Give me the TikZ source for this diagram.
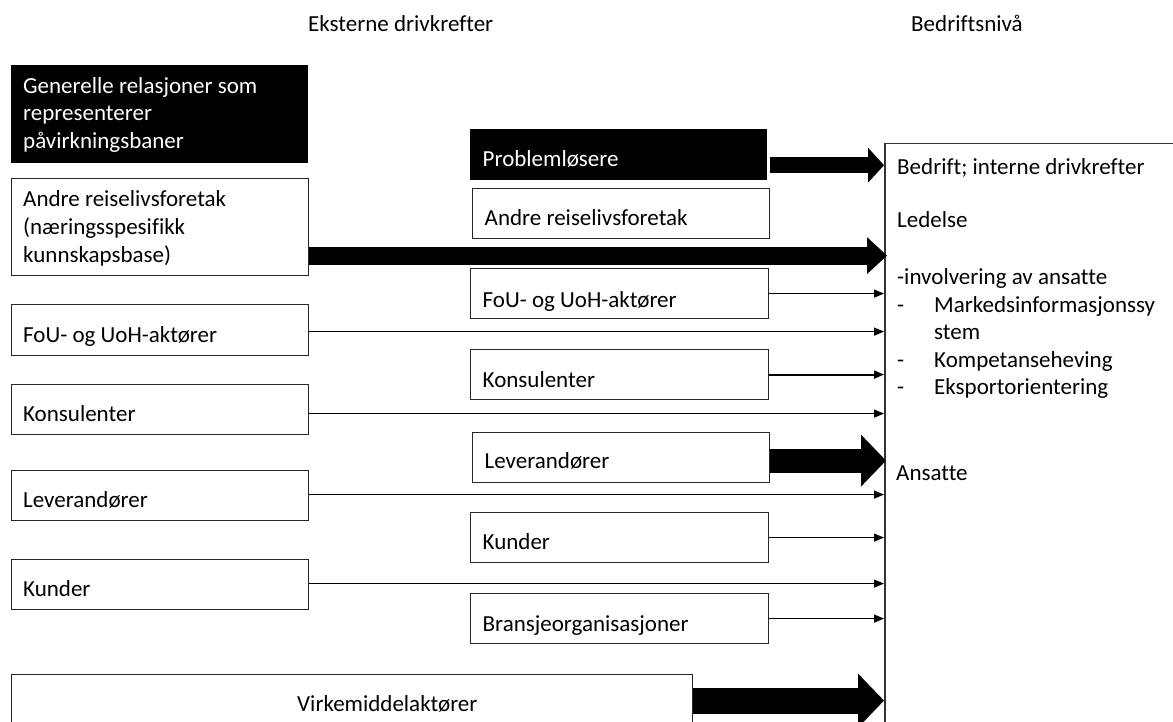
\documentclass[tikz,border=0pt]{standalone}
\usepackage{fontspec}
\setmainfont{Carlito}[Ligatures=NoCommon]
\usetikzlibrary{arrows.meta,calc}
\begin{document}
\begin{tikzpicture}[x=1pt,y=-1pt,
  box/.style={draw=black!85, line width=1.2pt, fill=white, inner sep=0pt, anchor=north west},
  blk/.style={fill=black, draw=black, inner sep=0pt, anchor=north west},
  lbl/.style={anchor=south west, inner sep=0pt, text depth=0pt, align=left, font=\fontsize{23}{27.5}\selectfont},
  arr/.style={line width=1.3pt, -{Triangle[length=10pt,width=8pt]}},
  fat/.style args={#1/#2/#3}{line width=#1, -{Triangle[length=#2,width=#3,line width=0pt]}},
]
\useasboundingbox (0,0) rectangle (1173,722);
\clip (0,0) rectangle (1173,722);
\fill[white] (0,0) rectangle (1173,722);

% headers
\node[lbl] (h1) at (308,32) {Eksterne drivkrefter};
\node[lbl] (h2) at (911,32) {Bedriftsnivå};

% right box
\node[box, draw=black!80, line width=1.5pt, minimum width=300pt, minimum height=620pt] (bed) at (884,143) {};

% left column
\node[blk, minimum width=296pt, minimum height=97pt] (Lhead) at (11,65) {};
\node[box, minimum width=297pt, minimum height=97pt] (Landre) at (11,178) {};
\node[box, minimum width=297pt, minimum height=51pt] (Lfou) at (11,304) {};
\node[box, minimum width=297pt, minimum height=50pt] (Lkons) at (11,384) {};
\node[box, minimum width=297pt, minimum height=50pt] (Llev) at (11,470) {};
\node[box, minimum width=297pt, minimum height=50pt] (Lkun) at (11,559) {};
\node[box, minimum width=681pt, minimum height=80pt] (Lvirk) at (11,674) {};

% middle column
\node[blk, minimum width=296pt, minimum height=50pt] (Mpro) at (470,129) {};
\node[box, minimum width=297pt, minimum height=50pt] (Mandre) at (472,188) {};
\node[box, minimum width=298pt, minimum height=50pt] (Mfou) at (470,268) {};
\node[box, minimum width=298pt, minimum height=50pt] (Mkons) at (470,349) {};
\node[box, minimum width=297pt, minimum height=50pt] (Mlev) at (472,432) {};
\node[box, minimum width=298pt, minimum height=50pt] (Mkun) at (470,512) {};
\node[box, minimum width=298pt, minimum height=50pt] (Mbra) at (470,593) {};

% labels
\node[lbl, text=white] (tLhead) at ([shift={(12pt,14pt)}]Lhead.south west) {Generelle relasjoner som\\representerer\\påvirkningsbaner};
\node[lbl] (tLandre) at ([shift={(12pt,14pt)}]Landre.south west) {Andre reiselivsforetak\\(næringsspesifikk\\kunnskapsbase)};
\node[lbl] (tLfou) at ([shift={(12pt,13.5pt)}]Lfou.south west) {FoU- og UoH-aktører};
\node[lbl] (tLkons) at ([shift={(12pt,13.5pt)}]Lkons.south west) {Konsulenter};
\node[lbl] (tLlev) at ([shift={(12pt,13.5pt)}]Llev.south west) {Leverandører};
\node[lbl] (tLkun) at ([shift={(12pt,13.5pt)}]Lkun.south west) {Kunder};
\node[lbl] (tLvirk) at ([shift={(286pt,-38pt)}]Lvirk.north west) {Virkemiddelaktører};

\node[lbl, text=white] (tMpro) at ([shift={(12.5pt,12.5pt)}]Mpro.south west) {Problemløsere};
\node[lbl] (tMandre) at ([shift={(12.5pt,13pt)}]Mandre.south west) {Andre reiselivsforetak};
\node[lbl] (tMfou) at ([shift={(12.5pt,12pt)}]Mfou.south west) {FoU- og UoH-aktører};
\node[lbl] (tMkons) at ([shift={(12.5pt,12.5pt)}]Mkons.south west) {Konsulenter};
\node[lbl] (tMlev) at ([shift={(12.5pt,14.5pt)}]Mlev.south west) {Leverandører};
\node[lbl] (tMkun) at ([shift={(12.5pt,14pt)}]Mkun.south west) {Kunder};
\node[lbl] (tMbra) at ([shift={(12.5pt,13pt)}]Mbra.south west) {Bransjeorganisasjoner};

% right box texts
\node[lbl] (tbed) at ([shift={(13pt,-32pt)}]bed.north west) {Bedrift; interne drivkrefter};
\node[lbl] (tled) at ([shift={(13pt,-85pt)}]bed.north west) {Ledelse};
\node[lbl] (tlist) at ([shift={(13pt,-252pt)}]bed.north west) {-involvering av ansatte\\
\makebox[37pt][l]{-}Markedsinformasjonssy\\
\hspace*{37pt}stem\\
\makebox[37pt][l]{-}Kompetanseheving\\
\makebox[37pt][l]{-}Eksportorientering};
\node[lbl] (tans) at ([shift={(12pt,-338pt)}]bed.north west) {Ansatte};

% thick arrows
\draw[fat={16pt/16pt/35pt}] ([yshift=-11pt,xshift=4pt]Mpro.east) -- ([yshift=-11pt]Mpro.east -| bed.west);
\draw[fat={18pt/20pt/37pt}] ([yshift=-28.5pt]Landre.east) -- ([yshift=-28.5pt,xshift=3pt]Landre.east -| bed.west);
\draw[fat={24pt/25pt/52pt}] ([yshift=-3pt]Mlev.east) -- ([yshift=-3pt,xshift=2pt]Mlev.east -| bed.west);
\draw[fat={26pt/26pt/54pt}] ([yshift=14pt]Lvirk.east) -- ([yshift=14pt]Lvirk.east -| bed.west);

% thin arrows
\draw[arr] ([yshift=-1.5pt]Lfou.east) -- ([yshift=-1.5pt]Lfou.east -| bed.west);
\draw[arr] ([yshift=-4pt]Lkons.east) -- ([yshift=-4pt]Lkons.east -| bed.west);
\draw[arr] ([yshift=1pt]Llev.east) -- ([yshift=1pt]Llev.east -| bed.west);
\draw[arr] ([yshift=1pt]Lkun.east) -- ([yshift=1pt]Lkun.east -| bed.west);
\draw[arr] (Mfou.east) -- (Mfou.east -| bed.west);
\draw[arr, line width=2pt] (Mkons.east) -- (Mkons.east -| bed.west);
\draw[arr] (Mkun.east) -- (Mkun.east -| bed.west);
\draw[arr] (Mbra.east) -- (Mbra.east -| bed.west);
\end{tikzpicture}
\end{document}
